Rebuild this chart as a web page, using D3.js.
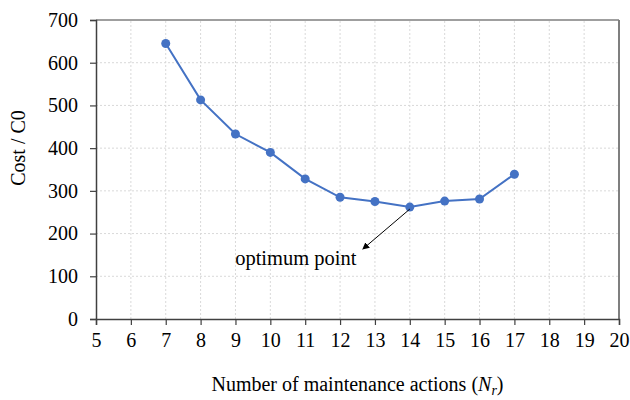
<!DOCTYPE html>
<html>
<head>
<meta charset="utf-8">
<script src="https://cdn.jsdelivr.net/npm/d3@7"></script>
<style>
  html, body { margin: 0; padding: 0; background: #fff; }
  svg { display: block; }
  svg text { font-family: "Liberation Serif", "Times New Roman", serif; }
</style>
</head>
<body>
<svg id="chart" width="630" height="400"></svg>
<script>
// Number of maintenance actions and normalised cost
const actions = [7, 8, 9, 10, 11, 12, 13, 14, 15, 16, 17];
const costs = [645, 513, 433, 390, 328, 285, 275, 262, 276, 281, 339];
const xTicks = [5, 6, 7, 8, 9, 10, 11, 12, 13, 14, 15, 16, 17, 18, 19, 20];
const yTicks = [0, 100, 200, 300, 400, 500, 600, 700];
const optimum = { n: 14, label: "optimum point" };

const svg = d3.select("#chart");
const margin = { left: 96, right: 11, top: 20, bottom: 81 };
const W = 630, H = 400;

const x = d3.scaleLinear().domain([5, 20]).range([margin.left, W - margin.right]);
const y = d3.scaleLinear().domain([0, 700]).range([H - margin.bottom, margin.top]);

// dotted grid
const grid = svg.append("g");
grid.selectAll("line.v").data(xTicks.slice(1, -1)).join("line")
  .attr("x1", d => x(d)).attr("x2", d => x(d))
  .attr("y1", y(0)).attr("y2", y(700))
  .attr("stroke", "#d9d9d9").attr("stroke-width", 1).attr("stroke-dasharray", "2,2");
grid.selectAll("line.h").data(yTicks.slice(1, -1)).join("line")
  .attr("x1", x(5)).attr("x2", x(20))
  .attr("y1", d => y(d)).attr("y2", d => y(d))
  .attr("stroke", "#d9d9d9").attr("stroke-width", 1).attr("stroke-dasharray", "2,2");

// frame: top and right
svg.append("line").attr("x1", x(5)).attr("x2", x(20)).attr("y1", y(700)).attr("y2", y(700))
  .attr("stroke", "#7f7f7f").attr("stroke-width", 1.5);
svg.append("line").attr("x1", x(20)).attr("x2", x(20)).attr("y1", y(700)).attr("y2", y(0))
  .attr("stroke", "#7f7f7f").attr("stroke-width", 2);

// axes
const xAxis = svg.append("g").attr("transform", `translate(0,${y(0)})`)
  .call(d3.axisBottom(x).tickValues(xTicks).tickSize(6).tickPadding(8).tickFormat(d3.format("d")));
const yAxis = svg.append("g").attr("transform", `translate(${x(5)},0)`)
  .call(d3.axisLeft(y).tickValues(yTicks).tickSize(6).tickPadding(12).tickFormat(d3.format("d")));
[xAxis, yAxis].forEach(a => {
  a.attr("font-family", null).attr("font-size", null);
  a.select(".domain").attr("stroke", "#404040").attr("stroke-width", 1.5);
  a.selectAll(".tick line").attr("stroke", "#404040").attr("stroke-width", 1.2);
  a.selectAll(".tick text").style("font-size", "20px").style("fill", "#000")
    .style("font-family", "'Liberation Serif', 'Times New Roman', serif");
});

// series line and markers
const line = d3.line().x((d, i) => x(actions[i])).y(d => y(d));
svg.append("path").datum(costs).attr("d", line)
  .attr("fill", "none").attr("stroke", "#4472c4").attr("stroke-width", 2);
svg.selectAll("circle.pt").data(costs).join("circle")
  .attr("cx", (d, i) => x(actions[i])).attr("cy", d => y(d)).attr("r", 4.5)
  .attr("fill", "#4472c4");

// annotation arrow pointing from the optimum point to its label
const defs = svg.append("defs");
defs.append("marker").attr("id", "arrow").attr("viewBox", "0 0 10 10")
  .attr("refX", 9).attr("refY", 5).attr("markerWidth", 7).attr("markerHeight", 7)
  .attr("orient", "auto")
  .append("path").attr("d", "M0,0 L10,5 L0,10 z").attr("fill", "#000");
const optVal = costs[actions.indexOf(optimum.n)];
svg.append("line")
  .attr("x1", x(optimum.n)).attr("y1", y(optVal) + 2)
  .attr("x2", x(optimum.n) - 47).attr("y2", y(optVal) + 42)
  .attr("stroke", "#000").attr("stroke-width", 1).attr("marker-end", "url(#arrow)");
svg.append("text").attr("x", x(optimum.n) - 114).attr("y", y(optVal) + 58)
  .attr("text-anchor", "middle").style("font-size", "20.5px").text(optimum.label);

// axis titles
const xt = svg.append("text").attr("x", (x(5) + x(20)) / 2).attr("y", 391)
  .attr("text-anchor", "middle").style("font-size", "20px");
xt.append("tspan").text("Number of maintenance actions (");
xt.append("tspan").attr("font-style", "italic").text("N");
xt.append("tspan").attr("font-style", "italic").style("font-size", "14px").attr("dy", 4).text("r");
xt.append("tspan").attr("dy", -4).text(")");

svg.append("text").attr("transform", "translate(25,148) rotate(-90)")
  .attr("text-anchor", "middle").style("font-size", "20px").text("Cost / C0");
</script>
</body>
</html>
